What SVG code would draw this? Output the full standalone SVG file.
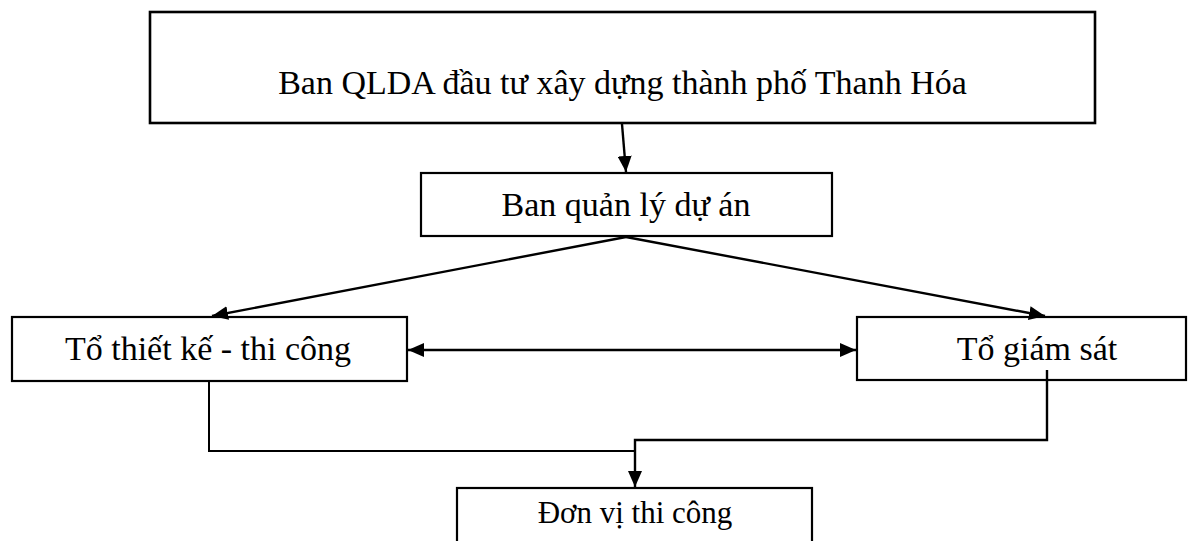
<svg xmlns="http://www.w3.org/2000/svg" width="1204" height="541" viewBox="0 0 1204 541">
<style>
.box{fill:#fff;stroke:#000;stroke-width:2.2}
.lbl{font-family:"Liberation Serif","Times New Roman",serif;font-size:34px;fill:#000;text-anchor:middle}
.con{fill:none;stroke:#000;stroke-width:2.4}
</style>
<defs>
<marker id="arr" markerUnits="userSpaceOnUse" markerWidth="16" markerHeight="14" refX="16" refY="7" orient="auto-start-reverse">
<path d="M0,0 L16,7 L0,14 Z" fill="#000"/>
</marker>
</defs>
<rect width="1204" height="541" fill="#fff"/>
<g id="n-top">
<rect class="box" x="150" y="12" width="945" height="111" style="stroke-width:2.6"/>
<text class="lbl" x="622.5" y="94">Ban QLDA đầu tư xây dựng thành phố Thanh Hóa</text>
</g>
<g id="n-bql">
<rect class="box" x="421" y="173" width="411" height="63"/>
<text class="lbl" x="626" y="216">Ban quản lý dự án</text>
</g>
<g id="n-tk">
<rect class="box" x="12" y="317" width="395" height="64"/>
<text class="lbl" x="208" y="360">Tổ thiết kế - thi công</text>
</g>
<g id="n-gs">
<rect class="box" x="857" y="317" width="329" height="63"/>
<text class="lbl" x="1037" y="360">Tổ giám sát</text>
</g>
<g id="n-dv">
<rect class="box" x="457" y="488" width="355" height="60"/>
<text class="lbl" x="635" y="523" style="font-size:31px">Đơn vị thi công</text>
</g>
<g id="connectors">
<line class="con" x1="622" y1="124" x2="626" y2="172" marker-end="url(#arr)"/>
<line class="con" x1="626" y1="237" x2="212" y2="316" marker-end="url(#arr)"/>
<line class="con" x1="626" y1="237" x2="1045" y2="316" marker-end="url(#arr)"/>
<line class="con" x1="408" y1="350" x2="856" y2="350" marker-start="url(#arr)" marker-end="url(#arr)"/>
<polyline class="con" points="209,381 209,451 635,451" style="stroke-width:2"/>
<polyline class="con" points="1047,370 1047,440 635,440 635,487" marker-end="url(#arr)"/>
</g>
</svg>
